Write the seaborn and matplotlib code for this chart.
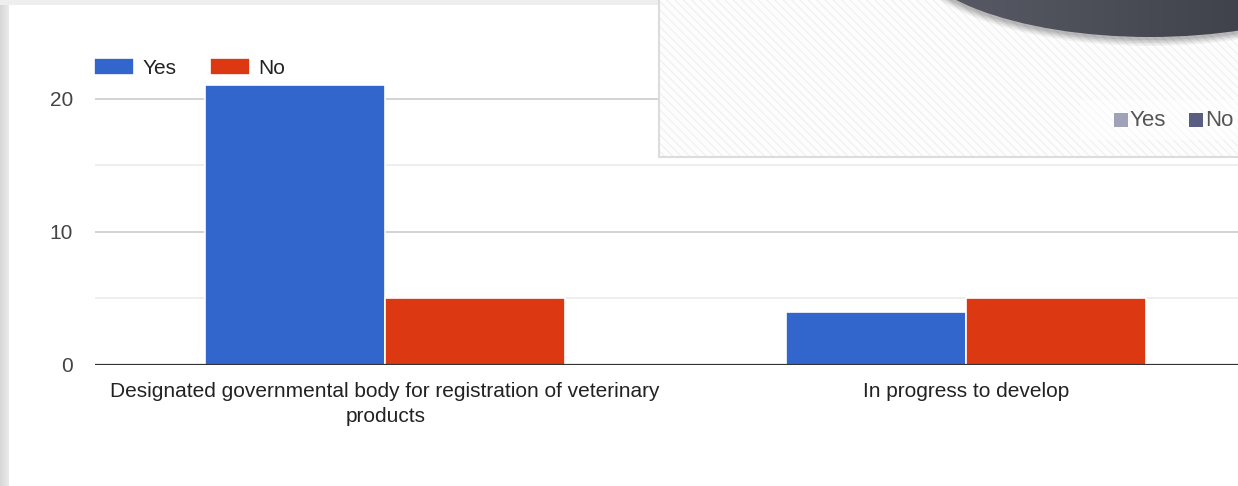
import numpy as np
import pandas as pd
import matplotlib
matplotlib.use("Agg")
import matplotlib.pyplot as plt
from matplotlib.patches import Rectangle, Ellipse
import seaborn as sns

# Survey answers per item
categories = [
    "Designated governmental body for registration of veterinary\nproducts",
    "In progress to develop",
]
answers = ["Yes", "No"]
yes_counts = [21, 4]
no_counts = [5, 5]

bar_colors = {"Yes": "#3366cc", "No": "#dc3912"}
y_major = [0, 10, 20]
y_minor = [5, 15]

df = pd.DataFrame({
    "item": categories * 2,
    "answer": ["Yes"] * len(categories) + ["No"] * len(categories),
    "count": yes_counts + no_counts,
})

W, H = 1238, 486
sns.set_theme(style="white")
plt.rcParams["font.family"] = ["Liberation Sans", "DejaVu Sans"]
plt.rcParams["hatch.linewidth"] = 0.8

fig = plt.figure(figsize=(W / 100, H / 100), dpi=100)
fig.patch.set_facecolor("#ececec")


def fx(px):
    return px / W


def fy(py):
    return 1 - py / H


# Page background: grey frame with a white panel
bg = fig.add_axes([0, 0, 1, 1], zorder=-2)
bg.set_xlim(0, W)
bg.set_ylim(H, 0)
bg.axis("off")
grad = np.linspace(0.84, 0.92, 64).reshape(1, -1)
bg.imshow(np.dstack([grad] * 3), extent=(0, 9, H, 0), aspect="auto")
bg.add_patch(Rectangle((0, 0), W, 5, facecolor="#eeeeee", edgecolor="none"))
bg.add_patch(Rectangle((9, 5), W - 9, H - 5, facecolor="white", edgecolor="none"))

# Main bar chart
ax = fig.add_axes([fx(95), fy(365), fx(1256) - fx(95), fy(32) - fy(365)])
ax.set_facecolor("none")
sns.barplot(
    data=df, x="item", y="count", hue="answer", hue_order=answers,
    palette=bar_colors, width=0.62, edgecolor="white", linewidth=1.2,
    saturation=1, ax=ax, legend=True,
)
ax.set_xlim(-0.5, 1.5)
ax.set_ylim(0, 25)
ax.set_xlabel("")
ax.set_ylabel("")
for s in ax.spines.values():
    s.set_visible(False)
for v in y_major[1:]:
    ax.axhline(v, color="#cccccc", lw=1.2, zorder=0)
for v in y_minor:
    ax.axhline(v, color="#ebebeb", lw=1.2, zorder=0)
ax.axhline(0, color="#333333", lw=1.6, zorder=3)
ax.set_yticks(y_major)
ax.set_yticklabels([str(v) for v in y_major])
ax.tick_params(axis="y", length=0, pad=16, labelsize=15, labelcolor="#444444")
ax.tick_params(axis="x", length=0, pad=12, labelsize=15, labelcolor="#222222")
for lab in ax.get_xticklabels():
    lab.set_multialignment("center")
    lab.set_linespacing(1.45)

handles, labels = ax.get_legend_handles_labels()
ax.get_legend().remove()
fig.legend(
    handles, labels, loc="center left", bbox_to_anchor=(fx(94), fy(68)),
    ncol=2, frameon=False, fontsize=15, handlelength=1.92, handleheight=0.9,
    handletextpad=0.4, columnspacing=1.62, borderpad=0, borderaxespad=0,
    labelcolor="#222222",
)

# Overlapping panel in the upper right
ov = fig.add_axes([0, 0, 1, 1], zorder=5)
ov.set_xlim(0, W)
ov.set_ylim(H, 0)
ov.axis("off")
ov.patch.set_alpha(0)
ov.add_patch(Rectangle((659, -5), 700, 162, facecolor="#fdfdfd",
                       edgecolor="#f0f0f0", hatch="\\\\\\\\", lw=0))
ov.add_patch(Rectangle((659, -5), 700, 162, facecolor="none",
                       edgecolor="#dcdcdc", lw=1.5))

# Dark rounded shape with a soft shadow
for i, a in enumerate([0.04, 0.05, 0.06, 0.07, 0.08]):
    off = 6 - i
    ov.add_patch(Ellipse((1150, -58 + off), 492 + off, 190 + off,
                         facecolor="black", edgecolor="none", alpha=a))
shape = Ellipse((1150, -58), 490, 190, facecolor="none", edgecolor="none")
ov.add_patch(shape)
g = np.linspace(0.0, 1.0, 256).reshape(1, -1)
c0 = np.array([0x5b, 0x5e, 0x68]) / 255
c1 = np.array([0x34, 0x36, 0x3e]) / 255
img = c0[None, None, :] * (1 - g[..., None]) + c1[None, None, :] * g[..., None]
im = ov.imshow(img, extent=(905, 1395, 40, -160), aspect="auto", zorder=6)
im.set_clip_path(shape)
ov.set_xlim(0, W)
ov.set_ylim(H, 0)

# Small legend of the overlapping panel
ov.add_patch(Rectangle((1080, 100), 170, 40, facecolor="white",
                       edgecolor="none", alpha=0.5, zorder=7))
ov.add_patch(Rectangle((1114, 113), 14, 14, facecolor="#a0a3b8",
                       edgecolor="none", zorder=8))
ov.text(1130, 120, "Yes", fontsize=16, color="#555555", va="center",
        ha="left", zorder=8)
ov.add_patch(Rectangle((1189, 113), 14, 14, facecolor="#5a5f82",
                       edgecolor="none", zorder=8))
ov.text(1205, 120, "No", fontsize=16, color="#555555", va="center",
        ha="left", zorder=8)

fig.savefig("out.png", dpi=100, facecolor=fig.get_facecolor())
